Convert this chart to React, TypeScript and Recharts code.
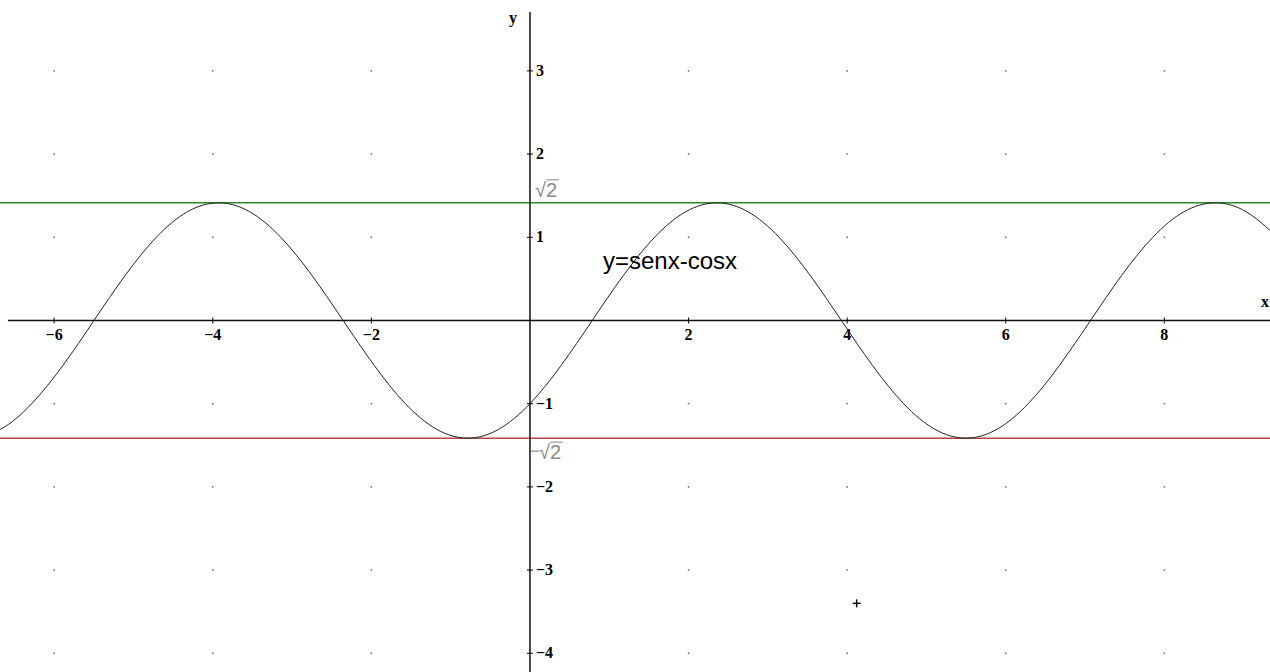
import { ComposedChart, Line, Scatter, XAxis, YAxis, ReferenceLine } from 'recharts';

const WIDTH = 1270;
const HEIGHT = 672;

// visible window in graph units
const xDomain = [-6.683, 9.332];
const yDomain = [-4.225, 3.852];

// y = sen x - cos x, sampled every pi/8
const curveX = [
  -7.069, -6.676, -6.283, -5.89, -5.498, -5.105, -4.712, -4.32, -3.927, -3.534, -3.142,
  -2.749, -2.356, -1.963, -1.571, -1.178, -0.785, -0.393, 0, 0.393, 0.785, 1.178,
  1.571, 1.963, 2.356, 2.749, 3.142, 3.534, 3.927, 4.32, 4.712, 5.105, 5.498,
  5.89, 6.283, 6.676, 7.069, 7.461, 7.854, 8.247, 8.639, 9.032, 9.425,
];
const curveY = [
  -1.414, -1.307, -1, -0.541, 0, 0.541, 1, 1.307, 1.414, 1.307, 1,
  0.541, 0, -0.541, -1, -1.307, -1.414, -1.307, -1, -0.541, 0, 0.541,
  1, 1.307, 1.414, 1.307, 1, 0.541, 0, -0.541, -1, -1.307, -1.414,
  -1.307, -1, -0.541, 0, 0.541, 1, 1.307, 1.414, 1.307, 1,
];

const bound = 1.414; // sqrt(2)

const xTicks = [-6, -4, -2, 2, 4, 6, 8];
const xTickLabels = ['\u22126', '\u22124', '\u22122', '2', '4', '6', '8'];
const yTicks = [3, 2, 1, -1, -2, -3, -4];
const yTickLabels = ['3', '2', '1', '\u22121', '\u22122', '\u22123', '\u22124'];

const gridX = [-6, -4, -2, 2, 4, 6, 8];
const gridY = [-4, -3, -2, -1, 1, 2, 3];

const marker = [{ x: 4.12, y: -3.4 }];

const curve = curveX.map((x, i) => ({ x, y: curveY[i] }));
const gridDots = gridX.flatMap((x) => gridY.map((y) => ({ x, y })));
const xTickData = xTicks.map((x, i) => ({ x, y: 0, label: xTickLabels[i] }));
const yTickData = yTicks.map((y, i) => ({ x: 0, y, label: yTickLabels[i] }));

const tickFont = { fontFamily: '"Liberation Serif", serif', fontWeight: 700, fontSize: 16 };

const GridDot = ({ cx, cy }: any) => <rect x={cx - 0.75} y={cy - 0.75} width={1.5} height={1.5} fill="#666" />;

const XTick = ({ cx, cy, payload }: any) => (
  <g>
    <line x1={cx} x2={cx} y1={cy - 3} y2={cy + 3} stroke="#000" />
    <text x={cx} y={cy + 20} textAnchor="middle" fill="#000" {...tickFont}>
      {payload.label}
    </text>
  </g>
);

const YTick = ({ cx, cy, payload }: any) => (
  <g>
    <line x1={cx - 3} x2={cx + 3} y1={cy} y2={cy} stroke="#000" />
    <text x={cx + 6} y={cy + 5} textAnchor="start" fill="#000" {...tickFont}>
      {payload.label}
    </text>
  </g>
);

const Plus = ({ cx, cy }: any) => (
  <g stroke="#111" strokeWidth={1.5}>
    <line x1={cx - 4} x2={cx + 4} y1={cy} y2={cy} />
    <line x1={cx} x2={cx} y1={cy - 4} y2={cy + 4} />
  </g>
);

// sqrt(2) captions next to the y axis
const RootLabel = ({ cx, cy, payload }: any) => {
  const neg = payload.y < 0;
  const x0 = neg ? cx + 9 : cx + 5;
  const base = neg ? cy + 21 : cy - 6;
  return (
    <g fill="#8a8a8a">
      {neg && <line x1={cx + 1} x2={cx + 9} y1={cy + 13} y2={cy + 13} stroke="#8a8a8a" strokeWidth={1.2} />}
      <text x={x0} y={base} fontFamily='"Liberation Sans", sans-serif' fontSize={20}>
        {'\u221A2'}
      </text>
      <line x1={x0 + 11} x2={x0 + 24} y1={base - 17} y2={base - 17} stroke="#8a8a8a" strokeWidth={1} />
    </g>
  );
};

const Caption = ({ cx, cy }: any) => (
  <text x={cx} y={cy} fontFamily='"Liberation Sans", Arial, sans-serif' fontSize={24} fill="#000">
    y=senx-cosx
  </text>
);

const AxisName = ({ cx, cy, payload }: any) => (
  <text
    x={payload.name === 'y' ? cx - 21 : cx - 9}
    y={payload.name === 'y' ? cy + 23 : cy - 13}
    fill="#000"
    {...tickFont}
  >
    {payload.name}
  </text>
);

export default function App() {
  return (
    <div style={{ width: WIDTH, height: HEIGHT, background: '#fff' }}>
      <style>{'body{margin:0}'}</style>
      <ComposedChart width={WIDTH} height={HEIGHT} margin={{ top: 0, right: 0, bottom: 0, left: 0 }}>
        <XAxis type="number" dataKey="x" domain={xDomain} allowDataOverflow hide />
        <YAxis type="number" dataKey="y" domain={yDomain} allowDataOverflow hide />

        <Scatter data={gridDots} shape={GridDot} isAnimationActive={false} />

        <ReferenceLine y={bound} stroke="#2a8c2a" strokeWidth={1.5} />
        <ReferenceLine y={-bound} stroke="#b44848" strokeWidth={1.5} />

        {/* coordinate axes through the origin */}
        <ReferenceLine
          segment={[{ x: -6.583, y: 0 }, { x: 9.332, y: 0 }]}
          stroke="#111"
          strokeWidth={1.5}
        />
        <ReferenceLine
          segment={[{ x: 0, y: 3.708 }, { x: 0, y: -4.225 }]}
          stroke="#111"
          strokeWidth={1.5}
        />

        <Scatter data={xTickData} shape={XTick} isAnimationActive={false} />
        <Scatter data={yTickData} shape={YTick} isAnimationActive={false} />
        <Scatter
          data={[{ x: 9.332, y: 0, name: 'x' }, { x: 0, y: 3.852, name: 'y' }]}
          shape={AxisName}
          isAnimationActive={false}
        />
        <Scatter
          data={[{ x: 0, y: bound }, { x: 0, y: -bound }]}
          shape={RootLabel}
          isAnimationActive={false}
        />

        <Line
          data={curve}
          dataKey="y"
          type="natural"
          stroke="#222"
          strokeWidth={1}
          dot={false}
          activeDot={false}
          isAnimationActive={false}
        />

        <Scatter data={[{ x: 0.92, y: 0.62 }]} shape={Caption} isAnimationActive={false} />
        <Scatter data={marker} shape={Plus} isAnimationActive={false} />
      </ComposedChart>
    </div>
  );
}
